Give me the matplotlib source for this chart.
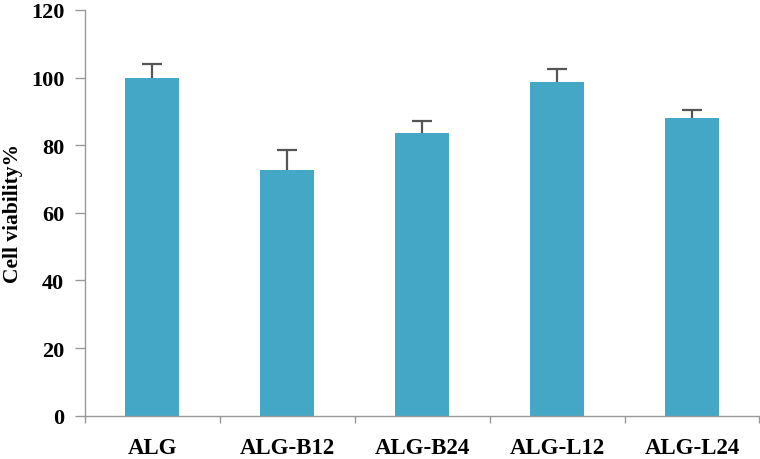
import numpy as np
import matplotlib
matplotlib.use("Agg")
import matplotlib.pyplot as plt

# Cell viability data
groups = ["ALG", "ALG-B12", "ALG-B24", "ALG-L12", "ALG-L24"]
viability = [99.8, 72.7, 83.7, 98.7, 88.2]
errors = [4.1, 6.0, 3.4, 3.9, 2.3]
y_ticks = [0, 20, 40, 60, 80, 100, 120]

plt.rcParams['font.family'] = ['Liberation Serif', 'DejaVu Serif']
plt.rcParams['font.weight'] = 'bold'

fig = plt.figure(figsize=(7.6, 4.6), dpi=100)
ax = fig.add_axes([0.1118, 0.0941, 0.8875, 0.882])

x = np.arange(len(groups))
ax.bar(x, viability, width=0.4, color='#43A7C5', zorder=2)
# only the upper half of the error bar is drawn
_, caps, _ = ax.errorbar(x, viability, yerr=[np.zeros(len(errors)), errors], fmt='none',
                         ecolor='#555555', elinewidth=1.6, capsize=7, capthick=1.6, zorder=3)
caps[0].set_visible(False)

ax.set_xlim(-0.5, len(groups) - 0.5)
ax.set_ylim(0, 120)
ax.set_yticks(y_ticks)
ax.set_xticks(x)
ax.set_xticklabels(groups, fontsize=16.5, fontweight='bold')
ax.set_xticks(np.arange(-0.5, len(groups)), minor=True)
ax.tick_params(axis='x', which='major', length=0, pad=15)
ax.tick_params(axis='x', which='minor', length=5, color='#999999', width=1)
ax.tick_params(axis='y', length=7, color='#999999', width=1, pad=8, labelsize=16)
for lbl in ax.get_yticklabels():
    lbl.set_fontweight('bold')

for side in ('top', 'right'):
    ax.spines[side].set_visible(False)
for side in ('left', 'bottom'):
    ax.spines[side].set_color('#999999')
    ax.spines[side].set_linewidth(1)

ax.set_ylabel('Cell viability%', fontsize=15.5, fontweight='bold')
ax.yaxis.set_label_coords(-0.092, 0.5)

fig.savefig('out.png', dpi=100)
